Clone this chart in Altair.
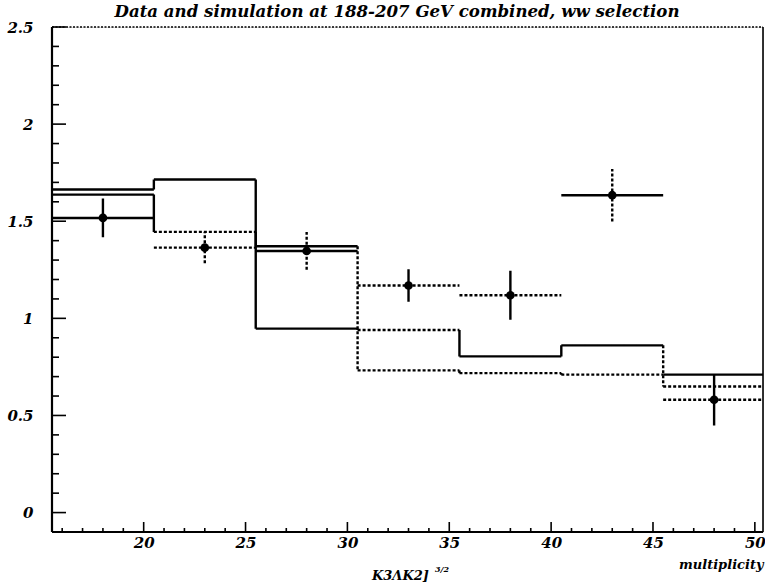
import altair as alt
import pandas as pd

# ---- values -------------------------------------------------------------
bin_edges = [15.5, 20.5, 25.5, 30.5, 35.5, 40.5, 45.5, 50.5]
sim_a = [1.663, 1.715, 0.947, 0.940, 0.804, 0.861, 0.649]
sim_b = [1.637, 1.445, 1.371, 0.732, 0.718, 0.710, 0.710]

data_x = [18, 23, 28, 33, 38, 43, 48]
data_y = [1.517, 1.364, 1.347, 1.169, 1.119, 1.634, 0.581]
data_err = [0.100, 0.080, 0.097, 0.084, 0.126, 0.135, 0.133]

x_labels = [20, 25, 30, 35, 40, 45, 50]
y_labels = [0, 0.5, 1, 1.5, 2, 2.5]
x_minor = [v for v in range(16, 51) if v % 5 != 0]
y_minor = [round(i * 0.1, 1) for i in range(1, 25) if i % 5 != 0]

# line style of each drawn piece (flat = bin top, step = edge riser)
sim_a_flat_style = ["solid", "solid", "solid", "dotted", "solid", "solid", "dotted"]
sim_a_step_style = ["solid", "solid", "solid", "solid", "solid", "dotted"]
sim_b_flat_style = ["solid", "dotted", "solid", "dotted", "dotted", "dotted", "solid"]
sim_b_step_style = ["solid", "solid", "dotted", "dotted", "solid", "solid"]
data_hbar_style = ["solid", "dotted", "solid", "dotted", "dotted", "solid", "dotted"]
data_vbar_style = ["solid", "dotted", "dotted", "solid", "solid", "dotted", "solid"]

W, H = 711, 505
FONT = "DejaVu Serif"


def step_segments(values, flat_style, step_style):
    rows = []
    for i, v in enumerate(values):
        rows.append(dict(x=bin_edges[i], x2=bin_edges[i + 1], y=v, y2=v,
                         style=flat_style[i]))
        if i > 0:
            rows.append(dict(x=bin_edges[i], x2=bin_edges[i], y=values[i - 1],
                             y2=v, style=step_style[i - 1]))
    return rows


seg_rows = step_segments(sim_a, sim_a_flat_style, sim_a_step_style)
seg_rows += step_segments(sim_b, sim_b_flat_style, sim_b_step_style)
for i, (cx, cy, e) in enumerate(zip(data_x, data_y, data_err)):
    seg_rows.append(dict(x=bin_edges[i], x2=bin_edges[i + 1], y=cy, y2=cy,
                         style=data_hbar_style[i]))
    seg_rows.append(dict(x=cx, x2=cx, y=cy - e, y2=cy + e,
                         style=data_vbar_style[i]))
segments = pd.DataFrame(seg_rows)
points = pd.DataFrame({"x": data_x, "y": data_y})

x_scale = alt.Scale(domain=[15.5, 50.4], nice=False, zero=False)
y_scale = alt.Scale(domain=[-0.1, 2.5], nice=False, zero=False)

x_axis = alt.Axis(values=x_labels, ticks=False, domain=False, grid=False,
                  labelFont=FONT, labelFontSize=15, labelFontStyle="italic",
                  labelFontWeight="bold", labelColor="black", labelPadding=3,
                  title="multiplicity", titleFont=FONT, titleFontSize=13,
                  titleFontStyle="italic", titleFontWeight="bold",
                  titleColor="black", titleAnchor="end", titleAlign="right",
                  titleBaseline="middle", titleX=W, titleY=32)
y_axis = alt.Axis(values=y_labels, format="~g", ticks=False, domain=False,
                  grid=False, labelFont=FONT, labelFontSize=15,
                  labelFontStyle="italic", labelFontWeight="bold",
                  labelColor="black", labelPadding=19, title=None)


def X(field):
    return alt.X(field, scale=x_scale, axis=x_axis)


def Y(field):
    return alt.Y(field, scale=y_scale, axis=y_axis)


dash = alt.StrokeDash("style:N", legend=None,
                      scale=alt.Scale(domain=["solid", "dotted"],
                                      range=[[1, 0], [3, 2]]))

lines = alt.Chart(segments).mark_rule(color="black", strokeWidth=2.4,
                                      clip=True).encode(
    x=X("x:Q"), x2="x2:Q", y=Y("y:Q"), y2="y2:Q", strokeDash=dash,
)

dots = alt.Chart(points).mark_point(filled=True, color="black", size=75,
                                    opacity=1).encode(x=X("x:Q"), y=Y("y:Q"))


# inward ticks
def tick_layer(vals, orient, length):
    df = pd.DataFrame({"v": vals})
    base = alt.Chart(df).mark_rule(color="black", strokeWidth=1.6)
    if orient == "y":
        return base.encode(y=Y("v:Q"), x=alt.value(0), x2=alt.value(length))
    return base.encode(x=X("v:Q"), y=alt.value(H), y2=alt.value(H - length))


ticks = [
    tick_layer(y_minor, "y", 7),
    tick_layer(y_labels, "y", 14),
    tick_layer(x_minor, "x", 4),
    tick_layer(x_labels, "x", 10),
]

one = pd.DataFrame({"k": [0]})
frame = [
    alt.Chart(one).mark_rule(color="black", strokeWidth=2.2).encode(
        x=alt.value(0), y=alt.value(0), y2=alt.value(H)),
    alt.Chart(one).mark_rule(color="black", strokeWidth=2.2).encode(
        x=alt.value(0), x2=alt.value(W), y=alt.value(H)),
    alt.Chart(one).mark_rule(color="black", strokeWidth=1.6,
                             strokeDash=[2, 1.5]).encode(
        x=alt.value(0), x2=alt.value(W), y=alt.value(0)),
    alt.Chart(one).mark_rule(color="black", strokeWidth=1.6).encode(
        x=alt.value(W), y=alt.value(0), y2=alt.value(H)),
]

title = alt.Chart(pd.DataFrame(
    {"t": ["Data and simulation at 188-207 GeV combined, ww selection"]}
)).mark_text(font=FONT, fontSize=16.6, fontStyle="italic", fontWeight="bold",
             color="black", align="center", baseline="middle").encode(
    text="t:N", x=alt.value(345), y=alt.value(-15))

ylab_main = alt.Chart(pd.DataFrame({"t": ["K3ΛK2]"]})).mark_text(
    font=FONT, fontSize=13, fontStyle="italic", fontWeight="bold",
    color="black", align="left", baseline="middle").encode(
    text="t:N", x=alt.value(320), y=alt.value(549))
ylab_sup = alt.Chart(pd.DataFrame({"t": ["3/2"]})).mark_text(
    font=FONT, fontSize=8, fontStyle="italic", fontWeight="bold",
    color="black", align="left", baseline="middle").encode(
    text="t:N", x=alt.value(383), y=alt.value(543))

chart = alt.layer(lines, dots, *ticks, *frame, title, ylab_main, ylab_sup).properties(
    width=W, height=H,
    autosize=alt.AutoSizeParams(type="none"),
    padding={"left": 52, "top": 27, "right": 2, "bottom": 50},
).configure_view(stroke=None).configure(background="white")

chart.save("out.html", embed_options={"renderer": "svg", "actions": False})
